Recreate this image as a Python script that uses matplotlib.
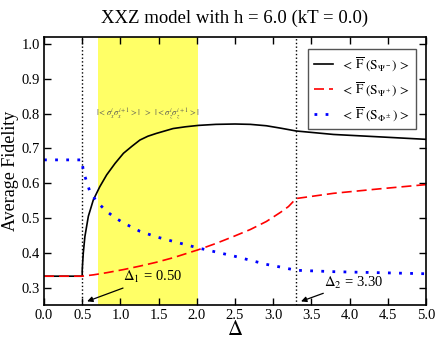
import matplotlib.pyplot as plt
import numpy as np

plt.rcParams['font.family'] = ['Liberation Serif', 'DejaVu Serif']
plt.rcParams['mathtext.fontset'] = 'stix'

# curve data
delta_black = [0.0, 0.5, 0.5, 0.505, 0.514, 0.535, 0.58, 0.645, 0.73, 0.82, 0.93, 1.04, 1.15, 1.255, 1.36, 1.47,
               1.69, 1.85, 2.02, 2.25, 2.5, 2.7, 2.91, 3.1, 3.3, 3.79, 4.4, 5.0]
f_black = [0.333, 0.333, 0.35, 0.37, 0.40, 0.447, 0.505, 0.552, 0.59, 0.624, 0.657, 0.686, 0.706, 0.724, 0.735, 0.743,
           0.757, 0.762, 0.766, 0.769, 0.770, 0.769, 0.765, 0.758, 0.750, 0.740, 0.733, 0.726]

delta_red = [0.0, 0.5, 0.65, 0.82, 1.04, 1.255, 1.47, 1.69, 2.02, 2.25, 2.48, 2.7, 2.91, 3.1, 3.2, 3.3, 3.79, 4.4, 5.0]
f_red = [0.333, 0.333, 0.337, 0.343, 0.352, 0.362, 0.373, 0.386, 0.409, 0.427, 0.447, 0.467, 0.49, 0.517, 0.533, 0.556,
         0.571, 0.584, 0.596]

delta_blue = [0.0, 0.5, 0.505, 0.513, 0.535, 0.557, 0.60, 0.69, 0.82, 0.93, 1.04, 1.255, 1.47, 1.69, 2.02, 2.5, 2.91,
              3.1, 3.3, 3.79, 4.4, 5.0]
f_blue = [0.667, 0.667, 0.65, 0.638, 0.62, 0.605, 0.576, 0.547, 0.519, 0.501, 0.486, 0.462, 0.446, 0.433, 0.414, 0.39,
          0.367, 0.359, 0.350, 0.346, 0.343, 0.340]

delta_1 = 0.50
delta_2 = 3.30
region = (0.70, 2.02)

fig = plt.figure(figsize=(4.36, 3.39), dpi=100)
ax = fig.add_axes([0.101, 0.100, 0.876, 0.791])

ax.axvspan(region[0], region[1], facecolor='#ffff66', edgecolor='white', hatch=':', linewidth=0, zorder=0)
ax.axvline(delta_1, color='black', linestyle=':', linewidth=1)
ax.axvline(delta_2, color='black', linestyle=':', linewidth=1)

ax.plot(delta_black, f_black, color='black', linewidth=1.2, label=r'$<\,\overline{\mathrm{F}}\;(\mathrm{S}_{\Psi^-})\,>$')
ax.plot(delta_red, f_red, color='red', linestyle=(0, (6, 3)), linewidth=1.2, label=r'$<\,\overline{\mathrm{F}}\;(\mathrm{S}_{\Psi^+})\,>$')
ax.plot(delta_blue, f_blue, color='blue', linestyle=(0, (1, 3)), linewidth=2, label=r'$<\,\overline{\mathrm{F}}\;(\mathrm{S}_{\Phi^\pm})\,>$')

ax.text(1.36, 0.80, r'$|<\sigma_x^i\sigma_x^{i+1}>|\;\;>\;\;|<\sigma_z^i\sigma_z^{i+1}>|$',
        ha='center', va='center', fontsize=6.2, color='#555555')

ax.annotate(r'$\Delta_1$ = 0.50', xy=(delta_1 + 0.03, 0.258), xytext=(1.03, 0.33),
            fontsize=10.5, ha='left', va='center',
            arrowprops=dict(arrowstyle='-|>', color='black', lw=0.9, mutation_scale=8, shrinkA=0))
ax.annotate(r'$\Delta_2$ = 3.30', xy=(delta_2 + 0.03, 0.258), xytext=(3.66, 0.315),
            fontsize=10.5, ha='left', va='center',
            arrowprops=dict(arrowstyle='-|>', color='black', lw=0.9, mutation_scale=8, shrinkA=0))

ax.set_xlim(0, 5)
ax.set_ylim(0.25, 1.02)
ax.set_xticks(np.arange(0, 5.01, 0.5))
ax.set_yticks(np.arange(0.3, 1.01, 0.1))
ax.set_xticklabels([f'{v:.1f}' for v in np.arange(0, 5.01, 0.5)])
ax.set_yticklabels([f'{v:.1f}' for v in np.arange(0.3, 1.01, 0.1)])
ax.tick_params(direction='in', top=True, right=True, labelsize=10.5, length=5, width=1, pad=3)
for s in ax.spines.values():
    s.set_linewidth(1.2)

ax.set_xlabel(r'$\Delta$', fontsize=15, labelpad=-1)
ax.set_ylabel('Average Fidelity', fontsize=13, labelpad=2)
ax.set_title('XXZ model with h = 6.0 (kT = 0.0)', fontsize=13.5, pad=10)

leg = ax.legend(loc='upper right', bbox_to_anchor=(0.975, 0.955), fontsize=9.5, fancybox=False,
                edgecolor='#555555', framealpha=1, handlelength=1.5, handletextpad=0.6,
                borderpad=0.45, labelspacing=0.55, borderaxespad=0)
leg.get_frame().set_linewidth(1)

fig.savefig('out.png', dpi=100)
